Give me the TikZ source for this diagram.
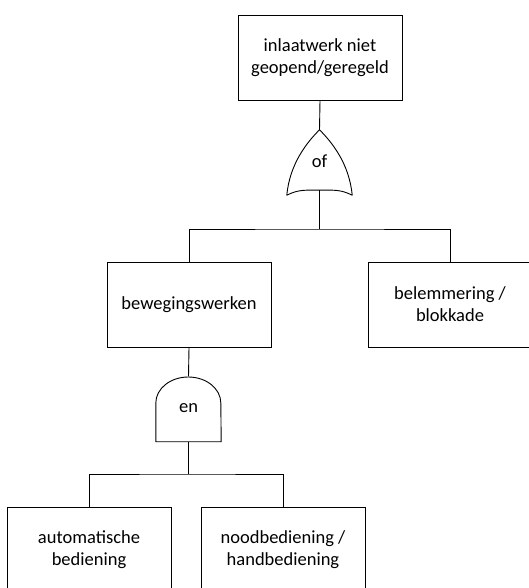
\documentclass[tikz,border=0pt]{standalone}
\usepackage{fontspec}
\setmainfont{Carlito}
\begin{document}
\begin{tikzpicture}[x=1pt,y=-1pt,
  event/.style={draw, line width=0.9pt, minimum width=164pt, minimum height=85pt,
    inner sep=0pt, align=center, font=\fontsize{18.5}{22}\selectfont},
  gatebox/.style={minimum width=65pt, minimum height=65pt, inner sep=0pt},
  gatetext/.style={font=\fontsize{18.5}{22}\selectfont},
  wire/.style={line width=0.9pt},
  gateline/.style={line width=0.9pt, line join=round}]
\useasboundingbox (0,0) rectangle (529,588);
\clip (0,0) rectangle (529,588);

% events
\node[event] (top) at (320,57.5) {inlaatwerk niet\\geopend/geregeld};
\node[event] (beweg) at (189,304.5) {bewegingswerken};
\node[event] (belem) at (450,304.5) {belemmering /\\blokkade};
\node[event] (auto) at (89,549.5) {automatische\\bediening};
\node[event] (nood) at (283,549.5) {noodbediening /\\handbediening};

% OR gate: pointed top, concave base
\node[gatebox] (orgate) at (319.5,162.5) {};
\draw[gateline] (orgate.south west)
  .. controls ++(3,-32) and ++(-12,12) .. (orgate.north)
  .. controls ++(12,12) and ++(-3,-32) .. (orgate.south east)
  .. controls ++(-12,-6) and ++(14,0) .. ([yshift=5pt]orgate.south)
  .. controls ++(-14,0) and ++(12,-6) .. cycle;
\node[gatetext] (orlabel) at ([yshift=1pt]orgate.center) {of};

% AND gate: straight sides, rounded top
\node[gatebox] (andgate) at (188.5,409) {};
\draw[gateline] (andgate.south west) -- ([yshift=6pt]andgate.west)
  arc[start angle=180, end angle=0, x radius=32.5pt, y radius=26pt]
  -- (andgate.south east) -- cycle;
\node[gatetext] (andlabel) at ([yshift=1pt]andgate.center) {en};

% connectors
\draw[wire] (top.south) -- (orgate.north);
\coordinate (orbar) at (319.5,229);
\draw[wire] ([yshift=5pt]orgate.south) -- (orbar);
\draw[wire] (beweg.north) |- (orbar) -| (belem.north);
\draw[wire] (beweg.south) -- (andgate.north);
\coordinate (andbar) at (188.5,474);
\draw[wire] (andgate.south) -- (andbar);
\draw[wire] (auto.north) |- (andbar) -| (nood.north);
\end{tikzpicture}
\end{document}
